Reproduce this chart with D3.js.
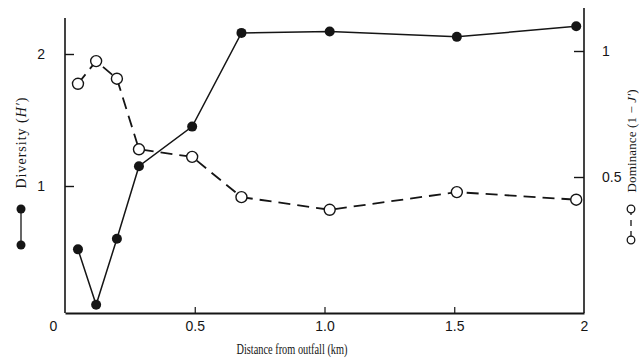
<!DOCTYPE html>
<html>
<head>
<meta charset="utf-8">
<script src="https://cdn.jsdelivr.net/npm/d3@7"></script>
<style>
  body { margin: 0; background: #fff; }
  svg { display: block; font-family: 'Liberation Serif', 'DejaVu Serif', serif; }
</style>
</head>
<body>
<div id="chart"></div>
<script>
// values
const distance = [0.05, 0.12, 0.20, 0.285, 0.49, 0.68, 1.02, 1.51, 1.97];
const diversity = [0.52, 0.10, 0.60, 1.15, 1.45, 2.16, 2.17, 2.13, 2.21];
const dominance = [0.87, 0.96, 0.89, 0.61, 0.58, 0.42, 0.37, 0.44, 0.41];

const xTicks = [0, 0.5, 1.0, 1.5, 2];
const xTickLabels = ['0', '0.5', '1.0', '1.5', '2'];
const leftTicks = [1, 2];
const rightTicks = [0.5, 1];
const rightTickLabels = ['0.5', '1'];

const width = 640, height = 360;
const ink = '#151515';

const svg = d3.select('#chart')
  .append('svg')
  .attr('width', width)
  .attr('height', height);

const x = d3.scaleLinear().domain([0, 2]).range([65, 584]);
const yLeft = d3.scaleLinear().domain([0, 2]).range([318, 54]);
const yRight = d3.scaleLinear().domain([0, 1]).range([303, 51]);

const baseY = 313;

// axis frame
svg.append('line')
  .attr('x1', x(0)).attr('x2', x(0)).attr('y1', baseY).attr('y2', 18)
  .attr('stroke', ink).attr('stroke-width', 1.6);
svg.append('line')
  .attr('x1', x(2)).attr('x2', x(2)).attr('y1', baseY).attr('y2', 8)
  .attr('stroke', ink).attr('stroke-width', 1.6);

// bottom axis
const gx = svg.append('g')
  .attr('transform', `translate(0, ${baseY})`)
  .call(d3.axisBottom(x)
    .tickValues(xTicks)
    .tickFormat((d, i) => xTickLabels[i])
    .tickSizeInner(-6)
    .tickSizeOuter(0)
    .tickPadding(8));
gx.select('.domain').attr('stroke', ink).attr('stroke-width', 1.8);
gx.selectAll('.tick line').attr('stroke', ink).attr('stroke-width', 1.2)
  .filter(d => d === 0 || d === 2).remove();
gx.selectAll('.tick text')
  .attr('fill', ink)
  .style('font-size', '14px')
  .attr('font-family', null)
  .attr('dx', d => d === 0 ? -12 : 0);

// left axis
const gl = svg.append('g')
  .attr('transform', `translate(${x(0)}, 0)`)
  .call(d3.axisLeft(yLeft)
    .tickValues(leftTicks)
    .tickFormat(d3.format('d'))
    .tickSizeInner(-9)
    .tickSizeOuter(0)
    .tickPadding(20));
gl.select('.domain').remove();
gl.selectAll('.tick line').attr('stroke', ink).attr('stroke-width', 1.4);
gl.selectAll('.tick text')
  .attr('fill', ink)
  .style('font-size', '14px')
  .attr('font-family', null);

// right axis
const gr = svg.append('g')
  .attr('transform', `translate(${x(2)}, 0)`)
  .call(d3.axisRight(yRight)
    .tickValues(rightTicks)
    .tickFormat((d, i) => rightTickLabels[i])
    .tickSizeInner(-10)
    .tickSizeOuter(0)
    .tickPadding(18));
gr.select('.domain').remove();
gr.selectAll('.tick line').attr('stroke', ink).attr('stroke-width', 1.4);
gr.selectAll('.tick text')
  .attr('fill', ink)
  .style('font-size', '14px')
  .attr('font-family', null);

// series
const domLine = d3.line()
  .x((d, i) => x(distance[i]))
  .y(d => yRight(d));
const divLine = d3.line()
  .x((d, i) => x(distance[i]))
  .y(d => yLeft(d));

svg.append('path')
  .datum(dominance)
  .attr('d', domLine)
  .attr('fill', 'none')
  .attr('stroke', ink)
  .attr('stroke-width', 1.8)
  .attr('stroke-dasharray', '12,7');

svg.append('path')
  .datum(diversity)
  .attr('d', divLine)
  .attr('fill', 'none')
  .attr('stroke', ink)
  .attr('stroke-width', 1.5);

svg.append('g')
  .selectAll('circle')
  .data(dominance)
  .join('circle')
  .attr('cx', (d, i) => x(distance[i]))
  .attr('cy', d => yRight(d))
  .attr('r', 5.5)
  .attr('fill', '#fff')
  .attr('stroke', ink)
  .attr('stroke-width', 1.4);

svg.append('g')
  .selectAll('circle')
  .data(diversity)
  .join('circle')
  .attr('cx', (d, i) => x(distance[i]))
  .attr('cy', d => yLeft(d))
  .attr('r', 5)
  .attr('fill', ink);

// x title
svg.append('text')
  .attr('x', 292)
  .attr('y', 354)
  .attr('text-anchor', 'middle')
  .attr('fill', ink)
  .attr('textLength', 111)
  .attr('lengthAdjust', 'spacingAndGlyphs')
  .style('font-size', '14px')
  .text('Distance from outfall (km)');

// left title + key
const leftTitle = svg.append('text')
  .attr('transform', 'translate(26, 143) rotate(-90)')
  .attr('text-anchor', 'middle')
  .attr('fill', ink)
  .attr('textLength', 91)
  .style('font-size', '14px');
leftTitle.append('tspan').text('Diversity (');
leftTitle.append('tspan').attr('font-style', 'italic').text('H′');
leftTitle.append('tspan').text(')');

svg.append('line')
  .attr('x1', 21).attr('x2', 21).attr('y1', 209).attr('y2', 245)
  .attr('stroke', ink).attr('stroke-width', 1.3);
svg.append('circle').attr('cx', 21).attr('cy', 209).attr('r', 4.5).attr('fill', ink);
svg.append('circle').attr('cx', 21).attr('cy', 245).attr('r', 4.5).attr('fill', ink);

// right title + key
const rightTitle = svg.append('text')
  .attr('transform', 'translate(636, 141) rotate(-90)')
  .attr('text-anchor', 'middle')
  .attr('fill', ink)
  .attr('textLength', 103)
  .style('font-size', '13px');
rightTitle.append('tspan').text('Dominance (1 − ');
rightTitle.append('tspan').attr('font-style', 'italic').text('J′');
rightTitle.append('tspan').text(')');

svg.append('line')
  .attr('x1', 631).attr('x2', 631).attr('y1', 209).attr('y2', 240)
  .attr('stroke', ink).attr('stroke-width', 1.3)
  .attr('stroke-dasharray', '6,5');
svg.append('circle').attr('cx', 631).attr('cy', 209).attr('r', 3.8)
  .attr('fill', '#fff').attr('stroke', ink).attr('stroke-width', 1.3);
svg.append('circle').attr('cx', 631).attr('cy', 240).attr('r', 3.8)
  .attr('fill', '#fff').attr('stroke', ink).attr('stroke-width', 1.3);
</script>
</body>
</html>
